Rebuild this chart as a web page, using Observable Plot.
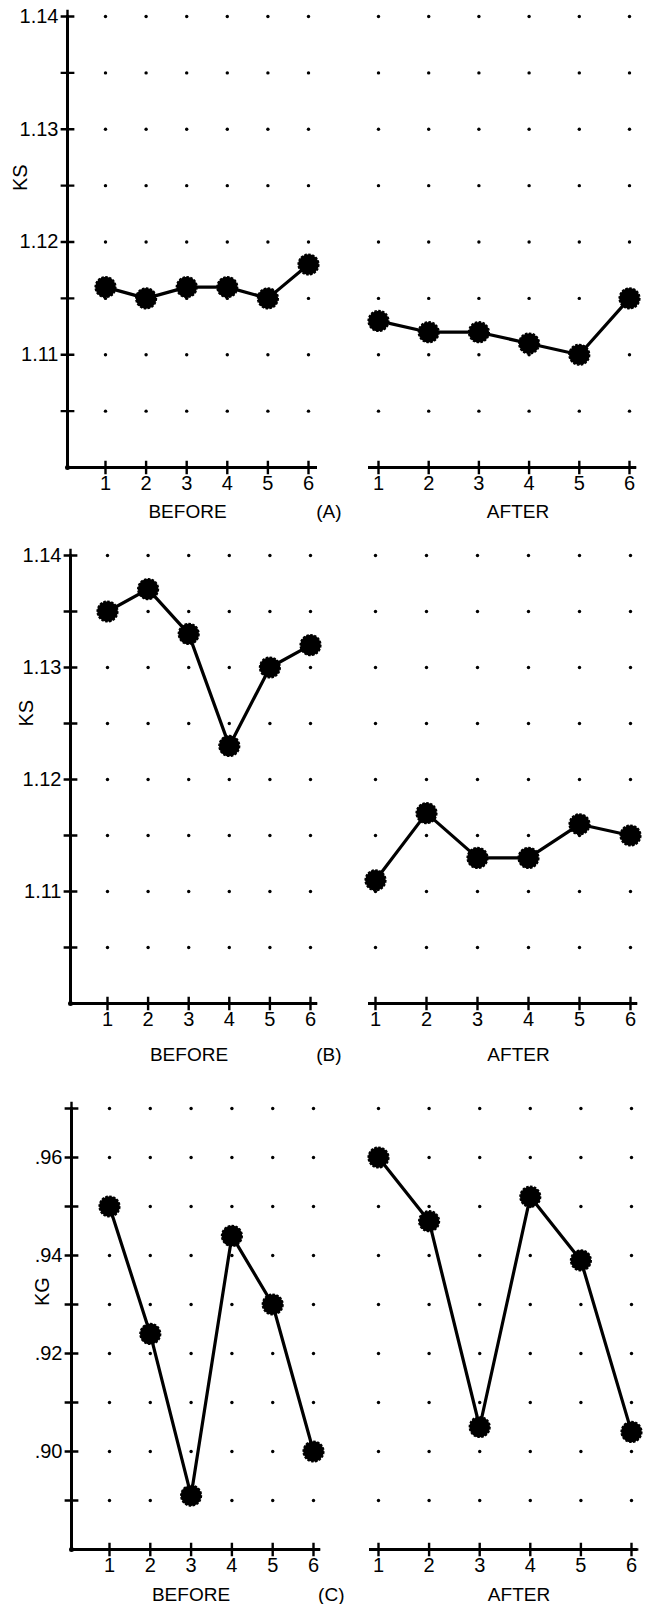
<!DOCTYPE html>
<html>
<head>
<meta charset="utf-8">
<script src="https://cdn.jsdelivr.net/npm/d3@7"></script>
<script src="https://cdn.jsdelivr.net/npm/@observablehq/plot@0.6"></script>
<style>
  body { margin: 0; background: white; }
  #chart { position: relative; width: 647px; height: 1604px; background: white; overflow: hidden; }
  #chart svg { position: absolute; left: 0; overflow: visible; }
</style>
</head>
<body>
<div id="chart"></div>
<script>
// ---- data ----
const trials = [1, 2, 3, 4, 5, 6];
const trialLabels = ["1", "2", "3", "4", "5", "6"];
const ksBeforeA = [1.116, 1.115, 1.116, 1.116, 1.115, 1.118];
const ksAfterA  = [1.113, 1.112, 1.112, 1.111, 1.110, 1.115];
const ksBeforeB = [1.135, 1.137, 1.133, 1.123, 1.130, 1.132];
const ksAfterB  = [1.111, 1.117, 1.113, 1.113, 1.116, 1.115];
const kgBeforeC = [0.950, 0.924, 0.891, 0.944, 0.930, 0.900];
const kgAfterC  = [0.960, 0.947, 0.905, 0.952, 0.939, 0.904];

const ksDomain = [1.10, 1.14];
const ksTicks = [1.11, 1.12, 1.13, 1.14];
const ksTickLabels = ["1.11", "1.12", "1.13", "1.14"];
const ksMinor = [1.105, 1.11, 1.115, 1.12, 1.125, 1.13, 1.135, 1.14];

const kgDomain = [0.88, 0.97];
const kgTicks = [0.90, 0.92, 0.94, 0.96];
const kgTickLabels = [".90", ".92", ".94", ".96"];
const kgMinor = [0.89, 0.90, 0.91, 0.92, 0.93, 0.94, 0.95, 0.96, 0.97];

const sideLabels = ["BEFORE", "AFTER"];
const panelLabels = ["(A)", "(B)", "(C)"];
const yLabels = ["KS", "KS", "KG"];

// ---- layout (positions / styles only) ----
const W = 647;
const FONT = "'Liberation Sans', Arial, Helvetica, sans-serif";
const layouts = [
  { top: 0, height: 530, mt: 16, mb: 63,
    before: { ml: 67, xr: 315, c1: 105, c6: 308 },
    after:  { ml: 369, xr: 634, c1: 378, c6: 629 },
    sideDy: 44, ylab: { dx: -47, dy: -51 } },
  { top: 530, height: 535, mt: 25, mb: 62,
    before: { ml: 70, xr: 315, c1: 107, c6: 310 },
    after:  { ml: 369, xr: 635, c1: 375, c6: 630 },
    sideDy: 51, ylab: { dx: -44, dy: -53 } },
  { top: 1065, height: 539, mt: 43, mb: 55,
    before: { ml: 71, xr: 318, c1: 109, c6: 313 },
    after:  { ml: 370, xr: 635, c1: 378, c6: 631 },
    sideDy: 45, ylab: { dx: -29, dy: -23 } }
];

const panels = [
  { before: ksBeforeA, after: ksAfterA, domain: ksDomain, ticks: ksTicks, tickLabels: ksTickLabels, minor: ksMinor },
  { before: ksBeforeB, after: ksAfterB, domain: ksDomain, ticks: ksTicks, tickLabels: ksTickLabels, minor: ksMinor },
  { before: kgBeforeC, after: kgAfterC, domain: kgDomain, ticks: kgTicks, tickLabels: kgTickLabels, minor: kgMinor }
];

const chart = document.getElementById("chart");

function half(p, L, i, isBefore) {
  const H = isBefore ? L.before : L.after;
  const values = isBefore ? p.before : p.after;
  const data = trials.map((t, k) => ({ t, v: values[k] }));
  const grid = [];
  for (const y of p.minor) for (const t of trials) grid.push({ t, y });

  const marks = [
    Plot.dot(grid, { x: "t", y: "y", r: 1.7, fill: "black" }),
    Plot.frame({ anchor: "bottom", stroke: "black", strokeWidth: 3 }),
    Plot.dot(trials, { x: d => d, frameAnchor: "bottom", symbol: "plus", r: 4.5, stroke: "black", strokeWidth: 2.4 }),
    Plot.axisX({ ticks: trials, tickFormat: d => trialLabels[trials.indexOf(d)], tickSize: 0, tickPadding: 8, label: null, fontSize: 20 }),
    Plot.text([sideLabels[isBefore ? 0 : 1]], { frameAnchor: "bottom", dy: L.sideDy, dx: isBefore ? -4 : 16, fontSize: 19, lineAnchor: "middle" }),
    Plot.line(data, { x: "t", y: "v", stroke: "black", strokeWidth: 3.2, strokeLinejoin: "round" }),
    Plot.dot(data, { x: "t", y: "v", r: 10.3, fill: "black", stroke: "black", strokeWidth: 1.6, strokeDasharray: "2.5,1.5" })
  ];
  if (isBefore) {
    marks.push(
      Plot.frame({ anchor: "left", stroke: "black", strokeWidth: 3 }),
      Plot.dot(p.minor, { y: d => d, frameAnchor: "left", symbol: "plus", r: 4.5, stroke: "black", strokeWidth: 2.4 }),
      Plot.dot([0], { frameAnchor: "bottom-left", r: 2.5, fill: "black" }),
      Plot.axisY({ ticks: p.ticks, tickFormat: d => p.tickLabels[p.ticks.indexOf(d)], tickSize: 0, tickPadding: 9, label: null, fontSize: 20 }),
      Plot.text([yLabels[i]], { frameAnchor: "left", rotate: -90, dx: L.ylab.dx, dy: L.ylab.dy, fontSize: 20 }),
      Plot.text([panelLabels[i]], { frameAnchor: "bottom-right", dx: 26, dy: L.sideDy, fontSize: 19, lineAnchor: "middle" })
    );
  }

  const svg = Plot.plot({
    width: W,
    height: L.height,
    marginTop: L.mt,
    marginBottom: L.mb,
    marginLeft: H.ml,
    marginRight: W - H.xr,
    x: { domain: [1, 6], range: [H.c1, H.c6], axis: null },
    y: { domain: p.domain, axis: null },
    style: { fontFamily: FONT, fontSize: "18px", color: "black", background: "transparent", overflow: "visible" },
    marks
  });
  svg.style.top = L.top + "px";
  svg.style.position = "absolute";
  svg.style.left = "0px";
  chart.appendChild(svg);
}

panels.forEach((p, i) => {
  half(p, layouts[i], i, true);
  half(p, layouts[i], i, false);
});
</script>
</body>
</html>
